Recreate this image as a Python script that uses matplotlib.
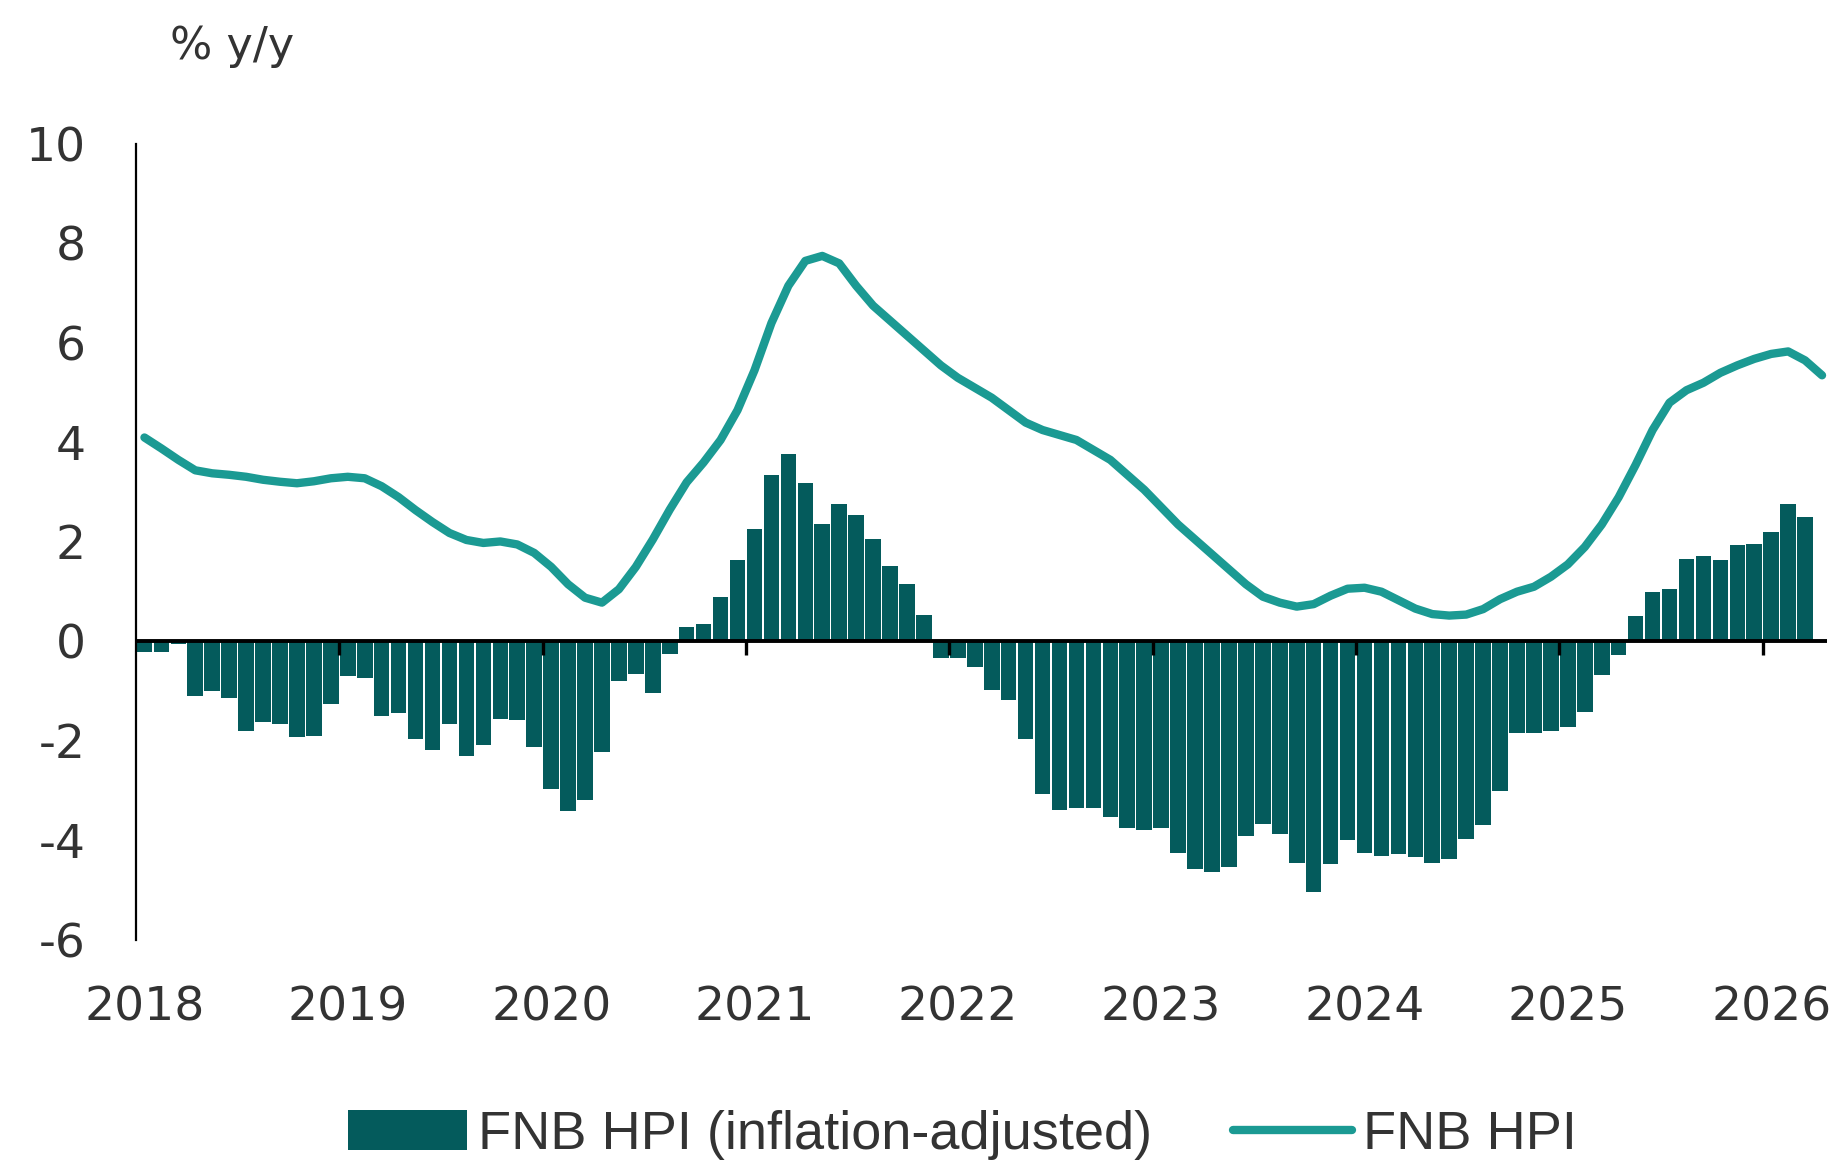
import numpy as np
import matplotlib.pyplot as plt

plt.rcParams['axes.unicode_minus'] = False

# monthly data, Jan 2018 onwards
years = ['2018', '2019', '2020', '2021', '2022', '2023', '2024', '2025', '2026']

real_hpi = [
    -0.22, -0.22, -0.05, -1.09, -1.00, -1.13, -1.81, -1.61, -1.65, -1.92, -1.90, -1.26,  # 2018
    -0.70, -0.74, -1.50, -1.44, -1.96, -2.18, -1.65, -2.31, -2.09, -1.55, -1.57, -2.13,  # 2019
    -2.96, -3.40, -3.18, -2.22, -0.80, -0.65, -1.03, -0.26, 0.30, 0.35, 0.89, 1.63,      # 2020
    2.26, 3.35, 3.76, 3.18, 2.37, 2.77, 2.55, 2.05, 1.52, 1.15, 0.54, -0.33,            # 2021
    -0.33, -0.52, -0.98, -1.18, -1.96, -3.07, -3.38, -3.35, -3.35, -3.53, -3.75, -3.79,  # 2022
    -3.75, -4.25, -4.57, -4.63, -4.53, -3.92, -3.66, -3.88, -4.46, -5.03, -4.47, -4.00,  # 2023
    -4.25, -4.32, -4.28, -4.33, -4.46, -4.37, -3.98, -3.68, -3.00, -1.85, -1.85, -1.80,  # 2024
    -1.72, -1.41, -0.67, -0.28, 0.51, 1.00, 1.05, 1.66, 1.72, 1.64, 1.93, 1.96,          # 2025
    2.20, 2.77, 2.51,                                                                    # 2026
]

nominal_hpi = [
    4.10, 3.88, 3.65, 3.44, 3.38, 3.35, 3.31, 3.25, 3.21, 3.18, 3.22, 3.28,  # 2018
    3.31, 3.28, 3.12, 2.90, 2.64, 2.40, 2.18, 2.04, 1.98, 2.01, 1.95, 1.78,  # 2019
    1.50, 1.15, 0.88, 0.78, 1.05, 1.50, 2.05, 2.65, 3.20, 3.60, 4.05, 4.65,  # 2020
    5.45, 6.40, 7.15, 7.65, 7.75, 7.60, 7.15, 6.75, 6.45, 6.15, 5.85, 5.55,  # 2021
    5.30, 5.10, 4.90, 4.65, 4.40, 4.25, 4.15, 4.05, 3.85, 3.65, 3.35, 3.05,  # 2022
    2.70, 2.35, 2.05, 1.75, 1.45, 1.15, 0.90, 0.78, 0.70, 0.75, 0.92, 1.06,  # 2023
    1.08, 1.00, 0.83, 0.66, 0.55, 0.52, 0.54, 0.65, 0.85, 1.00, 1.10, 1.30,  # 2024
    1.55, 1.90, 2.35, 2.90, 3.55, 4.25, 4.80, 5.05, 5.20, 5.40, 5.55, 5.68,  # 2025
    5.78, 5.83, 5.65, 5.35,                                                  # 2026
]

bar_col = '#045b5c'
line_col = '#1b9a93'
txt_col = '#333333'

fig = plt.figure(figsize=(18.4, 11.63), dpi=100)
ax = fig.add_axes([0.0739, 0.1918, 0.9191, 0.6844])

xb = np.arange(len(real_hpi)) + 0.5
xl = np.arange(len(nominal_hpi)) + 0.5
bars = ax.bar(xb, real_hpi, width=0.92, color=bar_col, zorder=2,
              label='FNB HPI (inflation-adjusted)')
ax.axhline(0, color='black', lw=2.8, zorder=3)
line, = ax.plot(xl, nominal_hpi, color=line_col, lw=6, zorder=4,
                solid_capstyle='round', solid_joinstyle='round', label='FNB HPI')

# year tick marks hanging off the zero line
year_start = np.arange(len(years)) * 12
ax.plot(year_start[1:], np.zeros(len(years) - 1), ls='none', marker=3,
        ms=10, mew=2.4, color='black', zorder=3)

ax.set_xlim(0, 99.8)
ax.set_ylim(-6, 10)
ax.set_yticks(np.arange(-6, 11, 2))
ax.set_xticks(year_start + 0.5)
ax.set_xticklabels(years)

for s in ['top', 'right', 'bottom']:
    ax.spines[s].set_visible(False)
ax.spines['left'].set_linewidth(1.6)
ax.spines['left'].set_color('black')

ax.tick_params(axis='y', length=0, pad=36, labelsize=34, labelcolor=txt_col)
ax.tick_params(axis='x', length=0, pad=33, labelsize=34, labelcolor=txt_col)

fig.text(0.0924, 0.96, '% y/y', fontsize=32, color=txt_col, va='center', ha='left')

fig.legend(handles=[bars, line], loc='center', bbox_to_anchor=(0.523, 0.024),
           ncol=2, frameon=False,
           prop={'family': ['Liberation Sans', 'DejaVu Sans'], 'size': 39},
           labelcolor=txt_col, handlelength=2.2, handleheight=0.75,
           handletextpad=0.2, columnspacing=1.5)

fig.savefig('out.png', dpi=100, facecolor='white')
